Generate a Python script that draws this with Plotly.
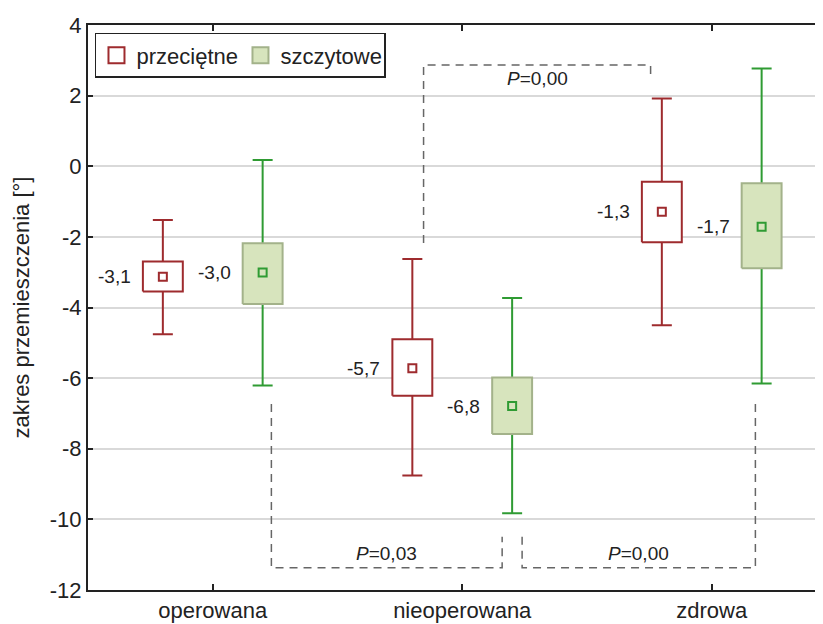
import plotly.graph_objects as go

# ---- data ----
categories = ["operowana", "nieoperowana", "zdrowa"]
series_names = ["przeciętne", "szczytowe"]

mean_p = [-3.13, -5.72, -1.29]
box_hi_p = [-2.70, -4.90, -0.44]
box_lo_p = [-3.55, -6.50, -2.15]
whisk_hi_p = [-1.52, -2.63, 1.92]
whisk_lo_p = [-4.76, -8.76, -4.50]

mean_s = [-3.01, -6.79, -1.71]
box_hi_s = [-2.18, -5.98, -0.48]
box_lo_s = [-3.90, -7.58, -2.89]
whisk_hi_s = [0.18, -3.73, 2.77]
whisk_lo_s = [-6.21, -9.83, -6.15]

y_ticks = [-12, -10, -8, -6, -4, -2, 0, 2, 4]

p_labels = ["P=0,00", "P=0,03", "P=0,00"]

# ---- style ----
FONT = "Arial, 'Liberation Sans', sans-serif"
TXT = "#222222"
RED = "#9e2b2e"
GREEN = "#2f9b33"
GFILL = "#d7e4bd"
GEDGE = "#a3b28a"
OFFSET = 0.2
HW = 0.08

series = [
    dict(name=series_names[0], mean=mean_p, bhi=box_hi_p, blo=box_lo_p,
         whi=whisk_hi_p, wlo=whisk_lo_p, off=-OFFSET, line=RED, edge=RED, fill="white"),
    dict(name=series_names[1], mean=mean_s, bhi=box_hi_s, blo=box_lo_s,
         whi=whisk_hi_s, wlo=whisk_lo_s, off=OFFSET, line=GREEN, edge=GEDGE, fill=GFILL),
]

fig = go.Figure()
annotations = []

for s in series:
    xs = [i + s["off"] for i in range(len(categories))]
    # whiskers
    fig.add_trace(go.Scatter(
        x=xs, y=s["mean"], mode="markers", marker=dict(opacity=0, size=2),
        error_y=dict(type="data", symmetric=False,
                     array=[h - m for h, m in zip(s["whi"], s["mean"])],
                     arrayminus=[m - l for m, l in zip(s["mean"], s["wlo"])],
                     width=10, thickness=2, color=s["line"]),
        showlegend=False, hoverinfo="skip"))
    # boxes
    bx, by = [], []
    for x, lo, hi in zip(xs, s["blo"], s["bhi"]):
        bx += [x - HW, x + HW, x + HW, x - HW, x - HW, None]
        by += [lo, lo, hi, hi, lo, None]
    fig.add_trace(go.Scatter(
        x=bx, y=by, mode="lines", fill="toself", fillcolor=s["fill"],
        line=dict(color=s["edge"], width=2), showlegend=False, hoverinfo="skip"))
    # mean markers
    fig.add_trace(go.Scatter(
        x=xs, y=s["mean"], mode="markers",
        marker=dict(symbol="square", size=8, color=s["fill"],
                    line=dict(color=s["line"], width=2)),
        showlegend=False))
    # legend entry
    fig.add_trace(go.Scatter(
        x=[None], y=[None], mode="markers", name=s["name"],
        marker=dict(symbol="square", size=16, color=s["fill"],
                    line=dict(color=s["edge"], width=2))))
    # value labels
    for x, m in zip(xs, s["mean"]):
        annotations.append(dict(
            x=x - HW, y=m, xref="x", yref="y", text=f"{m:.1f}".replace(".", ","),
            showarrow=False, xanchor="right", yanchor="middle", xshift=-10,
            font=dict(family=FONT, size=19, color=TXT)))

# significance brackets: (x_left, y_left_end, x_right, y_right_end, y_bar, label_side)
brackets = [
    (1 - OFFSET + 0.045, -2.17, 2 - OFFSET - 0.045, 2.49, 2.87, -1),
    (0 + OFFSET + 0.035, -6.73, 1 + OFFSET - 0.04, -10.49, -11.37, 1),
    (1 + OFFSET + 0.04, -10.49, 2 + OFFSET - 0.025, -6.56, -11.37, 1),
]
for (xl, yl, xr, yr, yb, side), lab in zip(brackets, p_labels):
    fig.add_trace(go.Scatter(
        x=[xl, xl, xr, xr], y=[yl, yb, yb, yr], mode="lines",
        line=dict(color="#666666", width=1.5, dash="8px,6px"),
        showlegend=False, hoverinfo="skip"))
    annotations.append(dict(
        x=(xl + xr) / 2, y=yb, xref="x", yref="y",
        text="<i>P</i>" + lab[1:], showarrow=False,
        xanchor="center", yanchor="middle", yshift=14 * side,
        font=dict(family=FONT, size=19, color=TXT)))

fig.update_layout(
    width=815, height=616,
    margin=dict(l=80, r=0, t=17, b=34),
    paper_bgcolor="white", plot_bgcolor="white",
    font=dict(family=FONT, size=22, color=TXT),
    annotations=annotations,
    showlegend=True,
    legend=dict(orientation="h", x=0.0095, y=0.986, xanchor="left", yanchor="top",
                bgcolor="white", bordercolor="#222222", borderwidth=1.5,
                font=dict(family=FONT, size=22, color=TXT),
                itemsizing="trace", tracegroupgap=0, entrywidth=99),
    xaxis=dict(range=[-0.5, 2.446], tickmode="array",
               tickvals=list(range(len(categories))), ticktext=categories,
               showgrid=False, zeroline=False,
               showline=True, linecolor="#222222", linewidth=2, mirror="ticks",
               ticks="inside", ticklen=6, tickcolor="#222222", tickwidth=1.5,
               tickfont=dict(family=FONT, size=22, color=TXT)),
    yaxis=dict(range=[-12, 4], tickmode="array", tickvals=y_ticks,
               ticktext=[str(v) for v in y_ticks],
               showgrid=True, gridcolor="#d9d9d9", gridwidth=1.5, zeroline=False,
               showline=True, linecolor="#222222", linewidth=2,
               ticks="inside", ticklen=5, tickcolor="#222222", tickwidth=1.5,
               tickfont=dict(family=FONT, size=22, color=TXT),
               title=dict(text="zakres przemieszczenia [°]",
                          font=dict(family=FONT, size=22, color=TXT), standoff=14)),
)

fig.write_html("out.html")
